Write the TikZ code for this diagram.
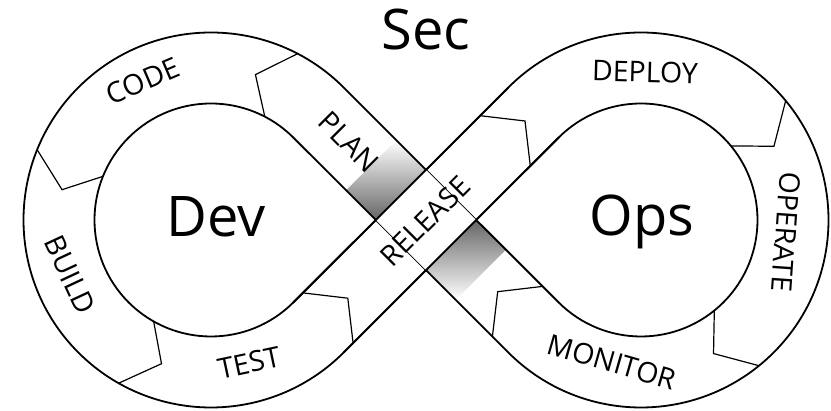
\documentclass[tikz,border=0pt]{standalone}
\usepackage{fontspec}
\setmainfont{Open Sans}
\usetikzlibrary{calc}
\begin{document}
\begin{tikzpicture}[x=1pt,y=1pt,
  edge/.style={line width=1.8pt, line join=round},
  chev/.style={line width=1.2pt, line join=miter},
  stage/.style={font=\fontsize{28.5}{28.5}\selectfont, inner sep=0pt},
  big/.style={font=\fontsize{56}{56}\selectfont, inner sep=0pt}]
\fill[white] (0,0) rectangle (831,411);
\useasboundingbox (0,0) rectangle (831,411);
% loop centres and the crossing point
\coordinate (L) at (211,191);
\coordinate (R) at (641,191);
\coordinate (X) at (426,191);
\def\rOut{187.5}
\def\rIn{116.5}
\def\rMid{152}
% shadow of the lower band where it passes under the upper one
\begin{scope}[shift={(375.8,191)}, rotate=45]
  \shade[top color=white, bottom color=black!60] (0,0) rectangle (71,42);
\end{scope}
\begin{scope}[shift={(426,140.8)}, rotate=45]
  \shade[top color=black!60, bottom color=white] (0,0) rectangle (71,-42);
\end{scope}
% outer contour of the Dev loop joined to the inner contour of the Ops loop
\draw[edge] ($(R)+(225:\rIn)$) -- ($(L)+(45:\rOut)$)
  arc[start angle=45, end angle=315, radius=\rOut]
  -- ($(R)+(135:\rIn)$)
  arc[start angle=135, end angle=-135, radius=\rIn] -- cycle;
% inner contour of the Dev loop joined to the outer contour of the Ops loop
\draw[edge] ($(R)+(225:\rOut)$) -- ($(L)+(45:\rIn)$)
  arc[start angle=45, end angle=315, radius=\rIn]
  -- ($(R)+(135:\rOut)$)
  arc[start angle=135, end angle=-135, radius=\rOut] -- cycle;
% the rising band lies on top at the crossing
\fill[white] (375.8,191) -- (426,241.2) -- (476.2,191) -- (426,140.8) -- cycle;
\draw[edge] ($(L)+(-45:\rOut)$) -- ($(R)+(135:\rIn)$);
\draw[edge] ($(L)+(-45:\rIn)$) -- ($(R)+(135:\rOut)$);
% stage dividers on the Dev loop (flow runs anticlockwise)
\foreach \a in {62.5,158,240.5}
  \draw[chev] ($(L)+(\a:\rOut)$) -- ($(L)+(\a+10.5:\rMid)$) -- ($(L)+(\a:\rIn)$);
% stage dividers on the Ops loop (flow runs clockwise)
\foreach \a in {39.5,-51}
  \draw[chev] ($(R)+(\a:\rOut)$) -- ($(R)+(\a-10.5:\rMid)$) -- ($(R)+(\a:\rIn)$);
% dividers on the straight runs
\coordinate (tr1) at (353.1,67.9);
\coordinate (tr2) at (347.8,112.8);
\coordinate (tr3) at (302.9,118.1);
\draw[chev] (tr1) -- (tr2) -- (tr3);
\coordinate (rd1) at (480.1,295.3);
\coordinate (rd2) at (525.0,290.0);
\coordinate (rd3) at (530.3,245.1);
\draw[chev] (rd1) -- (rd2) -- (rd3);
\coordinate (mp1) at (492.4,74.4);
\coordinate (mp2) at (497.7,119.3);
\coordinate (mp3) at (542.6,124.6);
\draw[chev] (mp1) -- (mp2) -- (mp3);
% titles
\node[big, anchor=base] (sec) at (426,361) {Sec};
\node[big, anchor=base] (dev) at (216,174) {Dev};
\node[big, anchor=base] (ops) at (642,175) {Ops};
% stage names
\node[stage, rotate=23] (code) at (143,330) {CODE};
\node[stage, rotate=-45] (plan) at (349,269) {PLAN};
\node[stage, rotate=-65] (build) at (70,136) {BUILD};
\node[stage, rotate=12] (test) at (249,48) {TEST};
\node[stage, rotate=45] (release) at (425,190) {RELEASE};
\node[stage, rotate=-1.5] (deploy) at (645,339) {DEPLOY};
\node[stage, rotate=-94] (operate) at (786,179) {OPERATE};
\node[stage, rotate=-16] (monitor) at (612,49) {MONITOR};
\end{tikzpicture}
\end{document}
